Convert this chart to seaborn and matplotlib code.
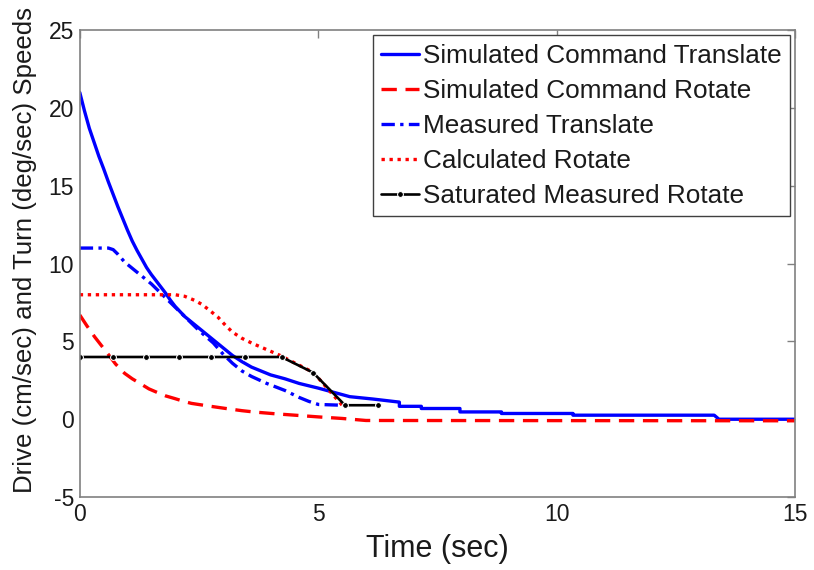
import matplotlib
matplotlib.use("Agg")
import matplotlib.pyplot as plt
import seaborn as sns

# Simulated command, translational speed (cm/sec)
sim_trans_t = [0, 0.1, 0.2, 0.3, 0.4, 0.5, 0.6, 0.7, 0.8, 0.9, 1.0, 1.1, 1.2,
               1.3, 1.4, 1.5, 1.6, 1.7, 1.8, 1.9, 2.0, 2.2, 2.4, 2.6, 2.8, 3.0,
               3.2, 3.4, 3.6, 3.8, 4.0, 4.3, 4.6, 5.0, 5.3, 5.66, 6.14, 6.7,
               6.7, 7.16, 7.16, 7.97, 7.97, 8.84, 8.84, 10.34, 10.34, 13.3, 13.4, 15]
sim_trans_v = [21.0, 19.8, 18.7, 17.8, 16.9, 16.1, 15.25, 14.45, 13.65, 12.9,
               12.15, 11.45, 10.85, 10.3, 9.75, 9.3, 8.9, 8.5, 8.1, 7.65, 7.25,
               6.6, 6.1, 5.6, 5.1, 4.6, 4.1, 3.7, 3.35, 3.1, 2.85, 2.6, 2.3, 2.0,
               1.75, 1.45, 1.3, 1.1, 0.83, 0.83, 0.69, 0.69, 0.47, 0.47, 0.37,
               0.37, 0.26, 0.26, 0.0, 0.0]

# Simulated command, rotational speed (deg/sec)
sim_rot_t = [0, 0.15, 0.31, 0.45, 0.59, 0.75, 0.94, 1.1, 1.29, 1.45, 1.64, 1.8,
             1.99, 2.2, 2.34, 2.7, 3.04, 3.4, 3.67, 4.1, 4.6, 5.0, 5.5, 6.0, 15]
sim_rot_v = [6.7, 6.0, 5.3, 4.75, 4.2, 3.55, 2.95, 2.6, 2.25, 1.95, 1.7, 1.5,
             1.33, 1.13, 1.02, 0.85, 0.7, 0.55, 0.46, 0.35, 0.24, 0.15, 0.05,
             -0.08, -0.1]

# Measured translational speed
meas_trans_t = [0, 0.6, 0.7, 0.8, 0.94, 1.1, 1.3, 1.5, 1.7, 2.0, 2.5, 2.8, 3.0,
                3.2, 3.4, 3.6, 3.92, 4.3, 4.6, 4.8, 5.0, 5.5]
meas_trans_v = [11.0, 11.0, 10.9, 10.6, 10.1, 9.7, 9.2, 8.7, 8.1, 7.2, 5.7, 4.9,
                4.2, 3.6, 3.1, 2.75, 2.3, 1.85, 1.4, 1.15, 0.95, 0.9]

# Calculated rotational speed
calc_rot_t = [0, 2.0, 2.2, 2.4, 2.55, 2.7, 2.9, 3.05, 3.2, 3.4, 3.6, 3.9, 4.2,
              4.9, 5.5]
calc_rot_v = [8.0, 8.0, 7.9, 7.65, 7.4, 7.05, 6.55, 6.05, 5.6, 5.2, 4.9, 4.5,
              4.1, 3.0, 0.9]

# Saturated measured rotational speed (sampled)
sat_rot_t = [0, 0.69, 1.38, 2.07, 2.76, 3.46, 4.23, 4.89, 5.56, 6.25]
sat_rot_v = [4.0, 4.0, 4.0, 4.0, 4.0, 4.0, 4.0, 3.0, 0.9, 0.9]

x_ticks = [0, 5, 10, 15]
y_ticks = [-5, 0, 5, 10, 15, 20, 25]

series_labels = ["Simulated Command Translate", "Simulated Command Rotate",
                 "Measured Translate", "Calculated Rotate",
                 "Saturated Measured Rotate"]

sns.set_theme(style="white")
plt.rcParams["font.family"] = ["Liberation Sans", "DejaVu Sans"]

fig = plt.figure(figsize=(8.14, 5.70), dpi=100)
ax = fig.add_axes([0.098, 0.128, 0.879, 0.819])

lw = 2.4
sns.lineplot(x=sim_trans_t, y=sim_trans_v, ax=ax, sort=False, estimator=None,
             color="#0000ff", lw=lw, label=series_labels[0])
sns.lineplot(x=sim_rot_t, y=sim_rot_v, ax=ax, sort=False, estimator=None,
             color="#ff0000", lw=lw, label=series_labels[1],
             linestyle=(0, (4.6, 2.6)))
sns.lineplot(x=meas_trans_t, y=meas_trans_v, ax=ax, sort=False, estimator=None,
             color="#0000ff", lw=lw, label=series_labels[2],
             linestyle=(0, (4.0, 1.6, 1.0, 1.6)))
sns.lineplot(x=calc_rot_t, y=calc_rot_v, ax=ax, sort=False, estimator=None,
             color="#ff0000", lw=lw, label=series_labels[3],
             linestyle=(0, (1.0, 1.4)))
sns.lineplot(x=sat_rot_t, y=sat_rot_v, ax=ax, sort=False, estimator=None,
             color="#000000", lw=1.9, label=series_labels[4],
             marker="o", markersize=4.2)

ax.set_xlim(0, 15)
ax.set_ylim(-5, 25)
ax.set_xticks(x_ticks)
ax.set_yticks(y_ticks)
ax.set_xticklabels([str(v) for v in x_ticks])
ax.set_yticklabels([str(v) for v in y_ticks])

for side in ["left", "right", "top", "bottom"]:
    ax.spines[side].set_visible(True)
    ax.spines[side].set_color("#808080")
    ax.spines[side].set_linewidth(1.2)

ax.tick_params(axis="both", which="major", direction="in", length=6, width=1,
               color="#808080", top=True, right=True, labelsize=16.5,
               labelcolor="#1a1a1a", pad=4)

ax.set_xlabel("Time (sec)", fontsize=22, color="#1a1a1a", labelpad=6)
ax.set_ylabel("Drive (cm/sec) and Turn (deg/sec) Speeds", fontsize=18.6,
              color="#1a1a1a")
ax.yaxis.set_label_coords(-0.06, 0.53)

leg = ax.legend(loc="upper right", fontsize=18.8, frameon=True, fancybox=False,
                edgecolor="#404040", framealpha=1, borderaxespad=0.2,
                handlelength=1.45, handletextpad=0.15, labelspacing=0.42,
                borderpad=0.32)
leg.get_frame().set_linewidth(1.0)
for t in leg.get_texts():
    t.set_color("#1a1a1a")

fig.savefig("out.png", dpi=100)
